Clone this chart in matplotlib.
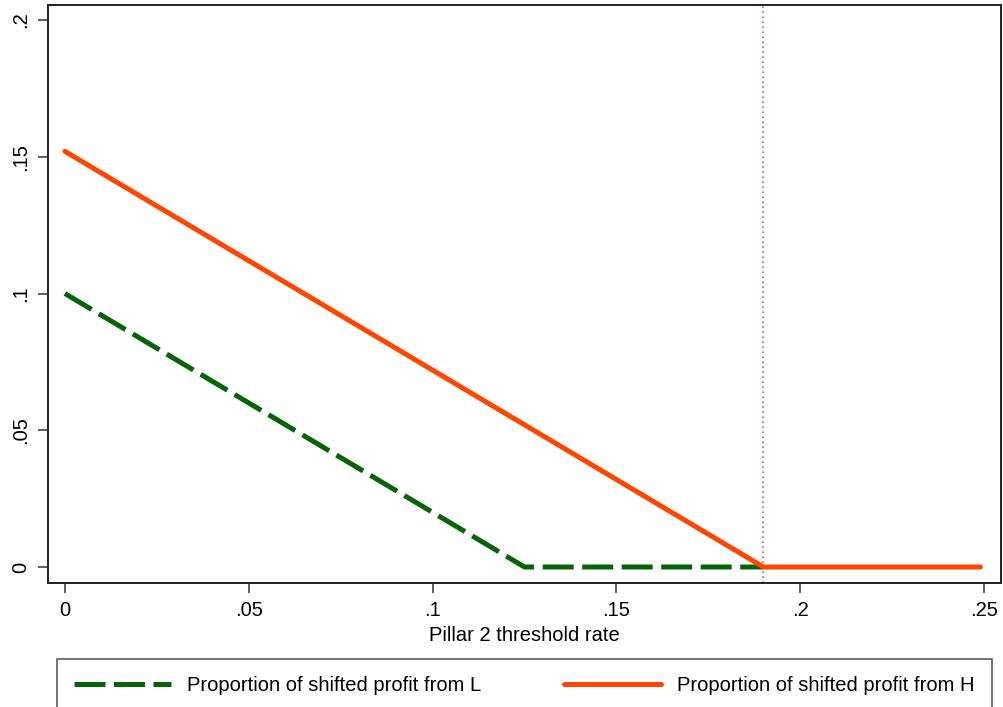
"""Proportion of shifted profit vs Pillar 2 threshold rate."""

import matplotlib
matplotlib.use("Agg")
import matplotlib.pyplot as plt

plt.rcParams['font.family'] = ['Liberation Sans', 'DejaVu Sans']

# data
rate_L = [0.0, 0.125, 0.19]
share_L = [0.10, 0.0, 0.0]
rate_H = [0.0, 0.19, 0.249]
share_H = [0.152, 0.0, 0.0]
threshold = 0.19

xticks = [0, 0.05, 0.1, 0.15, 0.2, 0.25]
xticklabels = ['0', '.05', '.1', '.15', '.2', '.25']
yticks = [0, 0.05, 0.1, 0.15, 0.2]
yticklabels = ['0', '.05', '.1', '.15', '.2']

fig = plt.figure(figsize=(10.04, 7.07), dpi=100)
ax = fig.add_axes([0.0478, 0.1754, 0.9492, 0.8175])

green = '#066306'
orange = '#ff4500'

ax.axvline(threshold, color='#ec4a7c', lw=1.2, ls=(0, (1, 2.0)), zorder=1)
lineL, = ax.plot(rate_L, share_L, color=green, lw=3.6, dashes=(6.2, 1.7),
                 dash_capstyle='butt', solid_joinstyle='round', zorder=2,
                 label='Proportion of shifted profit from L')
lineH, = ax.plot(rate_H, share_H, color=orange, lw=3.6, solid_capstyle='round',
                 zorder=3, label='Proportion of shifted profit from H')

ax.set_xlim(-0.0046, 0.2546)
ax.set_ylim(-0.00585, 0.2055)
ax.set_xticks(xticks)
ax.set_xticklabels(xticklabels)
ax.set_yticks(yticks)
ax.set_yticklabels(yticklabels, rotation=90, va='center')
ax.tick_params(direction='out', length=7, width=1.1, color='#333333',
               labelsize=14.5, pad=6)
for s in ax.spines.values():
    s.set_linewidth(1.4)
    s.set_color('#222222')
ax.set_xlabel('Pillar 2 threshold rate', fontsize=14.5, labelpad=4)

leg = fig.legend(handles=[lineL, lineH], loc='upper left', ncol=2,
                 mode='expand', bbox_to_anchor=(0.0568, -0.01, 0.931, 0.0778),
                 fontsize=14.5, frameon=True, fancybox=False, edgecolor='#333333',
                 handlelength=4.8, handletextpad=0.8, borderpad=0.85,
                 borderaxespad=0)
leg.get_frame().set_linewidth(1.2)

fig.savefig('out.png', dpi=100)
